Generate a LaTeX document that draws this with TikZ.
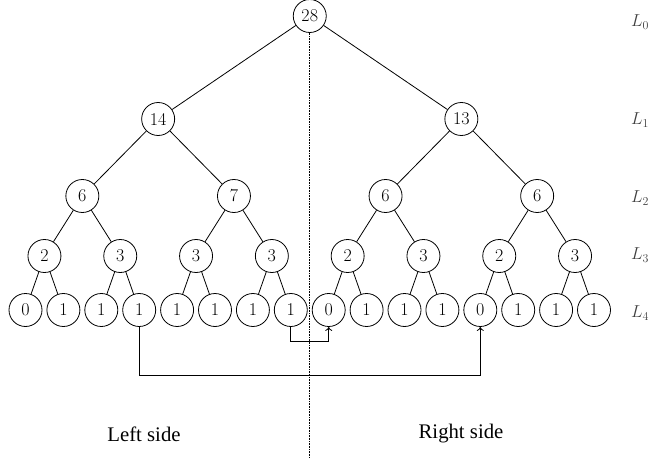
\documentclass[tikz,border=0pt]{standalone}
\usepackage{fontspec}
\newfontfamily\sidefont{Liberation Serif}
\usetikzlibrary{trees, arrows.meta}

\begin{document}
\begin{tikzpicture}[x=1pt,y=1pt,line width=0.8pt,
			level 1/.style={level distance=103pt,sibling distance=303.2pt},
			level 2/.style={level distance=77pt,sibling distance=151.6pt},
			level 3/.style={level distance=60pt,sibling distance=75.8pt},
			level 4/.style={level distance=54pt,sibling distance=37.9pt},
			ball/.style = {draw,circle,minimum size=33pt,inner sep=0pt,font=\fontsize{18}{20}\selectfont},
			lvl/.style = {text=black!75,font=\LARGE},
			side/.style = {font=\sidefont\huge},
			move/.style = {-{To[length=4pt,width=7pt]}}]
			\useasboundingbox (0,0) rectangle (651,459);
			\node [ball] (r) at (309.75,443) {28}
			child {node [ball] {14}
				child {node [ball] {6}
					child {node [ball] {2}
						child {node [ball] {0}}
						child {node [ball] {1}}}
					child {node [ball] {3}
						child {node [ball] {1}}
						child {node [ball] {1}}}}
				child {node [ball] {7}
					child {node [ball] {3}
						child {node [ball] {1}}
						child {node [ball] {1}}}
					child {node [ball] {3}
						child {node [ball] {1}}
						child {node [ball] {1}}}}
			}
			child {node [ball] {13}
				child {node [ball] {6}
					child {node [ball] {2}
						child {node [ball] {0}}
						child {node [ball] {1}}}
					child {node [ball] {3}
						child {node [ball] {1}}
						child {node [ball] {1}}}}
				child {node [ball] {6}
					child {node [ball] {2}
						child {node [ball] {0}}
						child {node [ball] {1}}}
					child {node [ball] {3}
						child {node [ball] {1}}
						child {node [ball] {1}}}}
			};
			% level names
			\node [lvl] (l0) at (640,437) {$L_0$};
			\node [lvl] (l1) at (640,339) {$L_1$};
			\node [lvl] (l2) at (640,261) {$L_2$};
			\node [lvl] (l3) at (640,204) {$L_3$};
			\node [lvl] (l4) at (640,146) {$L_4$};
			% split line
			\coordinate (cut) at (309.75,2);
			\draw [densely dotted,line width=0.6pt] (r.south) -- (cut);
			% moves
			\draw [move] (r-1-2-2-2.south) -- ++(0,-14) -| (r-2-1-1-1.south);
			\draw [move] (r-1-1-2-2.south) -- ++(0,-48) -| (r-2-2-1-1.south);
			\node [side] (left) at (144,25) {Left side};
			\node [side] (right) at (461,25) {Right side};
		\end{tikzpicture}
\end{document}
